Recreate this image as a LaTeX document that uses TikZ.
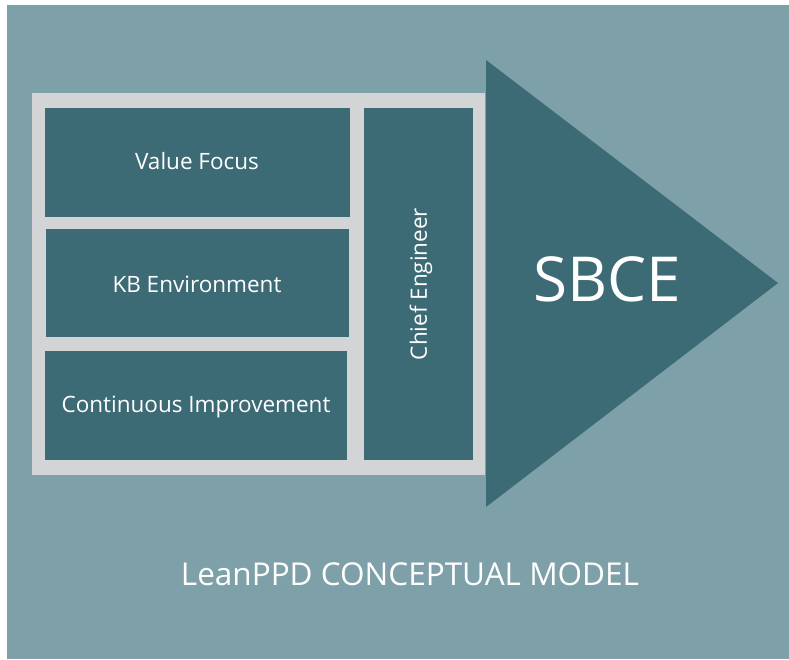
\documentclass[tikz,border=0pt]{standalone}
\usepackage{fontspec}
\setmainfont{Open Sans}
\usetikzlibrary{positioning}
\definecolor{panel}{RGB}{126,160,168}
\definecolor{darkteal}{RGB}{61,107,117}
\definecolor{framegray}{RGB}{211,212,214}
\tikzset{every picture/.style={line width=0.75pt}}

\begin{document}
\begin{tikzpicture}[x=1pt,y=-1pt,
  lbl/.style={text=white, inner sep=0pt, font=\fontsize{22.5}{27}\selectfont}]
\useasboundingbox (0,0) rectangle (789,659);
\fill[panel] (7,5) rectangle (789,659);
% grey frame with the four blocks
\fill[framegray] (32,93) rectangle (485,475);
\fill[darkteal] (45,108) rectangle (350,217);
\fill[darkteal] (46,229) rectangle (349,337);
\fill[darkteal] (45,351) rectangle (347,460);
\fill[darkteal] (364,108) rectangle (473,460);
% arrow head
\fill[darkteal] (486,60) -- (778,283) -- (486,507) -- cycle;
\node[lbl] (value) at (197,161) {Value Focus};
\node[lbl] (kb) at (197,284) {KB Environment};
\node[lbl] (ci) at (196,407) {Continuous Improvement};
\node[lbl, rotate=90] (chief) at (421,284) {Chief Engineer};
\node[text=white, inner sep=0pt, font=\fontsize{62}{68}\selectfont] (sbce) at (607,279) {SBCE};
\node[text=white, inner sep=0pt, font=\fontsize{31.5}{36}\selectfont] (title) at (410,574) {LeanPPD CONCEPTUAL MODEL};
\end{tikzpicture}
\end{document}
